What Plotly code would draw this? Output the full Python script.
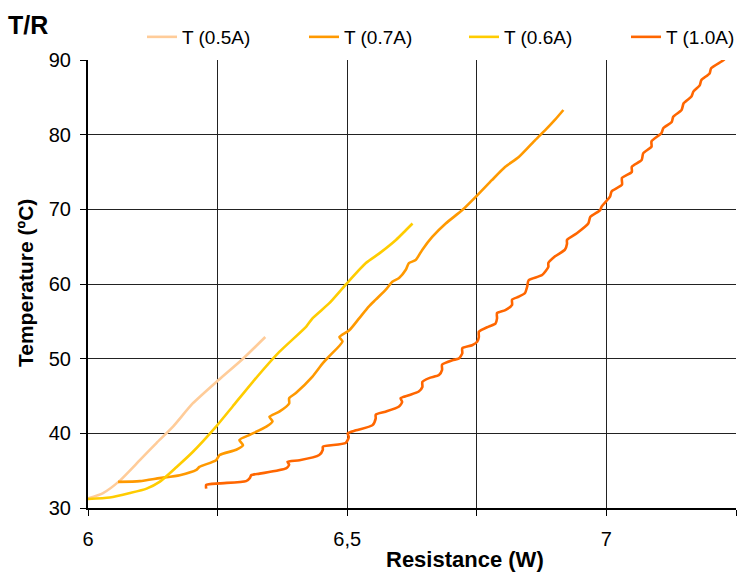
import plotly.graph_objects as go

# ---- data ----
x_05 = [6.000, 6.029, 6.062, 6.100, 6.132, 6.164, 6.202, 6.251, 6.299, 6.342]
y_05 = [31.3, 32.0, 33.7, 36.4, 38.7, 40.9, 44.0, 47.1, 50.0, 52.9]

x_07 = [6.058, 6.100, 6.138, 6.177, 6.209, 6.215, 6.247, 6.254, 6.286, 6.299, 6.292,
        6.312, 6.344, 6.356, 6.350, 6.369, 6.388, 6.388, 6.401, 6.433, 6.453, 6.465,
        6.491, 6.485, 6.504, 6.523, 6.542, 6.555, 6.574, 6.587, 6.600, 6.613, 6.619,
        6.632, 6.645, 6.664, 6.690, 6.722, 6.754, 6.779, 6.805, 6.831, 6.863, 6.882,
        6.901, 6.917]
y_07 = [33.5, 33.6, 34.0, 34.4, 35.1, 35.5, 36.4, 37.1, 37.8, 38.4, 39.1,
        39.8, 40.9, 41.6, 42.2, 42.9, 44.0, 44.7, 45.4, 47.6, 49.4, 50.3,
        52.3, 52.9, 53.8, 55.4, 57.0, 57.9, 59.2, 60.3, 60.8, 61.9, 62.8,
        63.2, 64.6, 66.3, 68.1, 69.9, 72.1, 73.9, 75.7, 77.0, 79.3, 80.6,
        82.0, 83.3]

x_06 = [6.000, 6.042, 6.081, 6.113, 6.138, 6.171, 6.202, 6.247, 6.279, 6.318, 6.369,
        6.421, 6.433, 6.465, 6.497, 6.536, 6.562, 6.594, 6.613, 6.626]
y_06 = [31.2, 31.4, 32.0, 32.6, 33.5, 35.5, 37.5, 40.9, 43.6, 46.9, 50.9,
        54.3, 55.4, 57.4, 59.9, 62.8, 64.1, 65.9, 67.2, 68.1]

x_10 = [6.228, 6.228, 6.254, 6.305, 6.312, 6.315, 6.331, 6.382, 6.388, 6.385, 6.408,
        6.446, 6.453, 6.453, 6.497, 6.503, 6.501, 6.517, 6.549, 6.555, 6.555, 6.574,
        6.600, 6.606, 6.603, 6.619, 6.638, 6.645, 6.645, 6.658, 6.677, 6.683, 6.683,
        6.703, 6.715, 6.722, 6.722, 6.741, 6.751, 6.754, 6.754, 6.773, 6.786, 6.789,
        6.789, 6.805, 6.818, 6.818, 6.831, 6.843, 6.847, 6.850, 6.876, 6.888, 6.888,
        6.901, 6.920, 6.924, 6.924, 6.943, 6.965, 6.969, 6.988, 6.991, 7.007, 7.010,
        7.030, 7.030, 7.049, 7.049, 7.068, 7.071, 7.087, 7.087, 7.106, 7.110, 7.126,
        7.129, 7.145, 7.149, 7.164, 7.168, 7.180, 7.183, 7.199, 7.202, 7.222, 7.228]
y_10 = [32.6, 33.1, 33.3, 33.6, 34.0, 34.4, 34.6, 35.3, 35.8, 36.2, 36.4,
        37.1, 37.8, 38.2, 38.7, 39.5, 40.0, 40.4, 41.1, 42.0, 42.5, 42.9,
        43.6, 44.2, 44.7, 45.1, 45.6, 46.2, 46.9, 47.4, 47.8, 48.5, 49.2,
        49.8, 50.0, 50.7, 51.4, 51.8, 52.3, 52.9, 53.6, 54.3, 54.7, 55.4,
        56.1, 56.5, 57.2, 57.9, 58.3, 58.8, 59.6, 60.5, 61.2, 62.3, 62.8,
        63.7, 64.6, 65.4, 65.9, 66.8, 68.1, 69.0, 69.9, 70.4, 71.7, 72.4,
        73.3, 74.2, 75.0, 75.7, 76.6, 77.5, 78.4, 79.1, 80.2, 80.9, 81.7,
        82.4, 83.3, 84.2, 85.1, 85.8, 86.6, 87.3, 88.2, 88.9, 89.8, 90.1]

x_tickvals = [6, 6.25, 6.5, 6.75, 7, 7.25]
x_ticktext = ["6", "", "6,5", "", "7", ""]
y_tickvals = [30, 40, 50, 60, 70, 80, 90]

series = [
    ("T (0.5A)", x_05, y_05, "#FFCC99"),
    ("T (0.7A)", x_07, y_07, "#FF9900"),
    ("T (0.6A)", x_06, y_06, "#FFCC00"),
    ("T (1.0A)", x_10, y_10, "#FF6600"),
]

FONT = "Liberation Sans, Arial, sans-serif"

# plot-area geometry in pixels
L, R, T, B = 88, 1, 60, 64
PW, PH = 737 - L - R, 572 - T - B

def px(xp):
    return (xp - L) / PW

def py(yp):
    return (572 - B - yp) / PH

legend_left_px = [142, 304, 464, 626]
legend_names = ["legend", "legend2", "legend3", "legend4"]

fig = go.Figure()
for (name, xs, ys, col), lg in zip(series, legend_names):
    fig.add_trace(go.Scatter(x=xs, y=ys, mode="lines", name=name, legend=lg,
                             line=dict(color=col, width=2.6, shape="spline",
                                       smoothing=0.6)))

legend_layout = {}
for lg, lx in zip(legend_names, legend_left_px):
    legend_layout[lg] = dict(orientation="h", x=px(lx), xanchor="left",
                             y=py(37), yanchor="middle",
                             font=dict(size=19, family=FONT),
                             bgcolor="rgba(0,0,0,0)")

fig.update_layout(
    width=737, height=572,
    margin=dict(l=L, r=R, t=T, b=B, autoexpand=False),
    paper_bgcolor="white", plot_bgcolor="white",
    font=dict(family=FONT, color="black", size=19),
    showlegend=True,
    xaxis=dict(range=[6, 7.25], tickvals=x_tickvals, ticktext=x_ticktext,
               showgrid=True, gridcolor="#222222", gridwidth=1,
               showline=True, linecolor="black", linewidth=2,
               ticks="outside", ticklen=6, tickcolor="black", tickwidth=1,
               ticklabelstandoff=6, zeroline=False,
               tickfont=dict(size=20, family=FONT)),
    yaxis=dict(range=[30, 90], tickvals=y_tickvals,
               showgrid=True, gridcolor="#222222", gridwidth=1,
               showline=True, linecolor="black", linewidth=2,
               ticks="outside", ticklen=6, tickcolor="black", tickwidth=1,
               ticklabelstandoff=5, zeroline=False,
               tickfont=dict(size=20, family=FONT)),
    annotations=[
        dict(text="<b>T/R</b>", xref="paper", yref="paper", showarrow=False,
             x=px(28), y=py(25), xanchor="center", yanchor="middle",
             font=dict(size=25, family=FONT)),
        dict(text="<b>Resistance (W)</b>", xref="paper", yref="paper", showarrow=False,
             x=px(465), y=py(559), xanchor="center", yanchor="middle",
             font=dict(size=22, family=FONT)),
        dict(text="<b>Temperature (ºC)</b>", xref="paper", yref="paper", showarrow=False,
             x=px(25), y=py(283), xanchor="center", yanchor="middle",
             textangle=-90, font=dict(size=21, family=FONT)),
    ],
    **legend_layout,
)

fig.write_html("out.html", config={"displayModeBar": False},
               post_script="document.body.style.margin='0px';")
